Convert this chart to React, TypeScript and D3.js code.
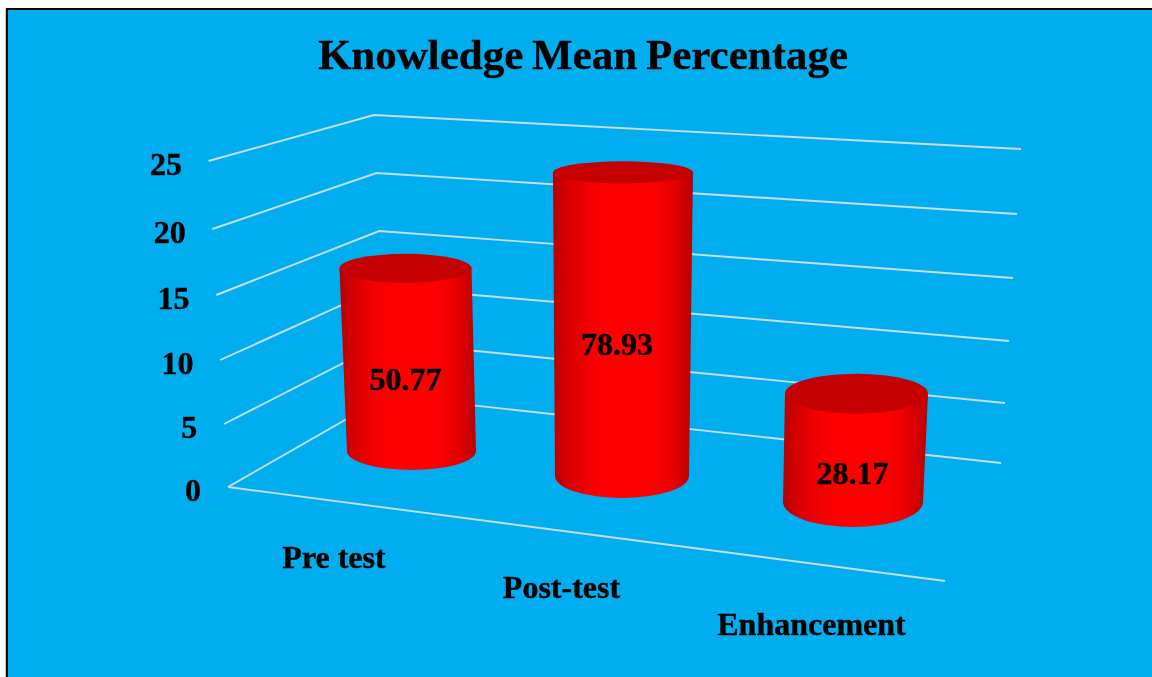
import React from "react";
import * as d3 from "d3";

const W = 1152, H = 677;
const title = "Knowledge Mean Percentage";
const categories = ["Pre test", "Post-test", "Enhancement"];
const dataLabels = ["50.77", "78.93", "28.17"];
const barHeights = [14.5, 24.1, 8.6]; // heights read against the axis
const yTicks = [0, 5, 10, 15, 20, 25];

const leftY = d3.scaleLinear().domain(yTicks).range([487, 424, 360, 295, 229, 161]);
const leftX = d3.scaleLinear().domain([0, 25]).range([228, 208.5]);
const cornerY = d3.scaleLinear().domain(yTicks).range([396, 342, 287, 231, 173, 115]);
const cornerX = d3.scaleLinear().domain([0, 25]).range([387, 374]);
const rightY = d3.scaleLinear().domain(yTicks).range([463, 403, 341, 278, 214, 149]);
const rightX = d3.scaleLinear().domain([0, 25]).range([1001, 1021]);
const tickEnd = d3.scaleLinear().domain([0, 25]).range([201, 182]);

const idx = categories.map((_, i) => i);
const baseX = d3.scaleLinear().domain([0, 1, 2]).range([411.5, 622, 853]);
const baseY = d3.scaleLinear().domain([0, 1, 2]).range([451, 476, 502]);
const baseRx = d3.scaleLinear().domain([0, 1, 2]).range([64.5, 67, 70]);
const baseRy = d3.scaleLinear().domain([0, 1, 2]).range([19, 22, 25]);
const topX = d3.scaleLinear().domain([0, 1, 2]).range([405.5, 623, 856.5]);
const topRx = d3.scaleLinear().domain([0, 1, 2]).range([66, 70, 71.5]);
const topRy = d3.scaleLinear().domain([0, 1, 2]).range([14.5, 11, 20]);
const px = d3.scaleLinear().domain([0, 25]).range([0, 315]);

const FONT = "'Liberation Serif','Times New Roman',serif";

function cylinder(i: number) {
  const tx = topX(i), ty = baseY(i) - px(barHeights[i]), trx = topRx(i), bx = baseX(i), by = baseY(i), brx = baseRx(i), bry = baseRy(i);
  return `M${tx - trx},${ty}L${bx - brx},${by}A${brx},${bry} 0 0 0 ${bx + brx},${by}L${tx + trx},${ty}Z`;
}

const textStyle = { fontFamily: FONT, fontWeight: "bold", fill: "#000", stroke: "#000", strokeWidth: 0.4 } as const;

export default function App() {
  const labelX = [334, 561.5, 811.5];
  const labelY = [567.5, 597.5, 634.5];
  const valueX = [405.5, 617, 852.5];
  const valueY = [389.5, 355, 484];
  return (
    <svg width={W} height={H} viewBox={`0 0 ${W} ${H}`} style={{ position: "absolute", left: 0, top: 0, display: "block" }}>
      <defs>
        <linearGradient id="side" x1="0" x2="1" y1="0" y2="0">
          <stop offset="0" stopColor="#b40000" />
          <stop offset="0.1" stopColor="#d60000" />
          <stop offset="0.25" stopColor="#f20000" />
          <stop offset="0.38" stopColor="#ff0000" />
          <stop offset="0.7" stopColor="#ff0000" />
          <stop offset="0.85" stopColor="#ea0000" />
          <stop offset="1" stopColor="#ba0000" />
        </linearGradient>
        <filter id="soft" filterUnits="userSpaceOnUse" x="0" y="0" width={W} height={H}>
          <feGaussianBlur stdDeviation="0.55" />
        </filter>
      </defs>
      <rect width={W} height={H} fill="#fff" />
      <line x1={5.5} y1={9} x2={5.5} y2={H} stroke="#c4c4c4" strokeWidth={1} />
      <rect x={7} y={9} width={W} height={H} fill="#00aef0" stroke="#000" strokeWidth={2} />
      <g filter="url(#soft)">
        {yTicks.map((t) => (
          <polyline key={t} fill="none" stroke="#c4deea" strokeWidth={1.9}
            points={`${leftX(t)},${leftY(t)} ${cornerX(t)},${cornerY(t)} ${rightX(t)},${rightY(t)}`} />
        ))}
        <line x1={leftX(0)} y1={leftY(0)} x2={945} y2={581} stroke="#c4deea" strokeWidth={1.9} />
        {idx.map((i) => (
          <g key={i}>
            <path d={cylinder(i)} fill="url(#side)" />
            <ellipse cx={topX(i)} cy={baseY(i) - px(barHeights[i])} rx={topRx(i)} ry={topRy(i)} fill="#c40000" />
          </g>
        ))}
        <text x={583} y={69} textAnchor="middle" fontSize={43} wordSpacing={-2} {...textStyle}>{title}</text>
        {yTicks.map((t) => (
          <text key={t} x={tickEnd(t)} y={leftY(t) + 13.5} textAnchor="end" fontSize={32} {...textStyle}>{t}</text>
        ))}
        {categories.map((c, i) => (
          <text key={c} x={labelX[i]} y={labelY[i]} textAnchor="middle" fontSize={32} {...textStyle}>{c}</text>
        ))}
        {dataLabels.map((d, i) => (
          <text key={d} x={valueX[i]} y={valueY[i]} textAnchor="middle" fontSize={32} {...textStyle}>{d}</text>
        ))}
      </g>
    </svg>
  );
}
